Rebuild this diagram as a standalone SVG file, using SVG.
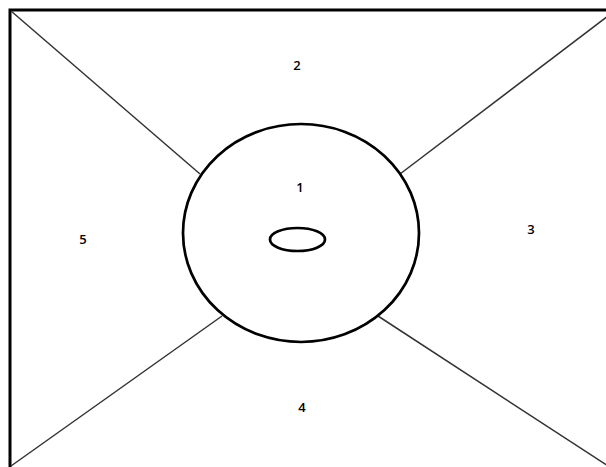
<svg xmlns="http://www.w3.org/2000/svg" width="606" height="467" viewBox="0 0 606 467">
<style>
.frame{fill:#fff;stroke:#000;stroke-width:3}
.div{stroke:#333;stroke-width:1.5;fill:none}
.ring{fill:#fff;stroke:#000;stroke-width:2.7}
.lbl{font-family:"Open Sans","Liberation Sans",Arial,sans-serif;font-size:13px;font-weight:600;fill:#000;text-anchor:middle}
</style>
<rect width="606" height="467" fill="#fff"/>
<rect class="frame" x="10" y="10" width="610" height="470"/>
<g id="dividers">
<line class="div" x1="11" y1="11" x2="200" y2="174"/>
<line class="div" x1="608" y1="16" x2="400" y2="174"/>
<line class="div" x1="11" y1="466" x2="222" y2="316"/>
<line class="div" x1="378" y1="316" x2="608" y2="466"/>
</g>
<g id="n2"><text class="lbl" x="297" y="70">2</text></g>
<g id="n3"><text class="lbl" x="531" y="234">3</text></g>
<g id="n4"><text class="lbl" x="302" y="412">4</text></g>
<g id="n5"><text class="lbl" x="83" y="244">5</text></g>
<g id="n1">
<ellipse class="ring" cx="301" cy="233" rx="118" ry="109"/>
<text class="lbl" x="300" y="192">1</text>
<ellipse class="ring" cx="297.5" cy="239.5" rx="27.5" ry="11.5"/>
</g>
</svg>
